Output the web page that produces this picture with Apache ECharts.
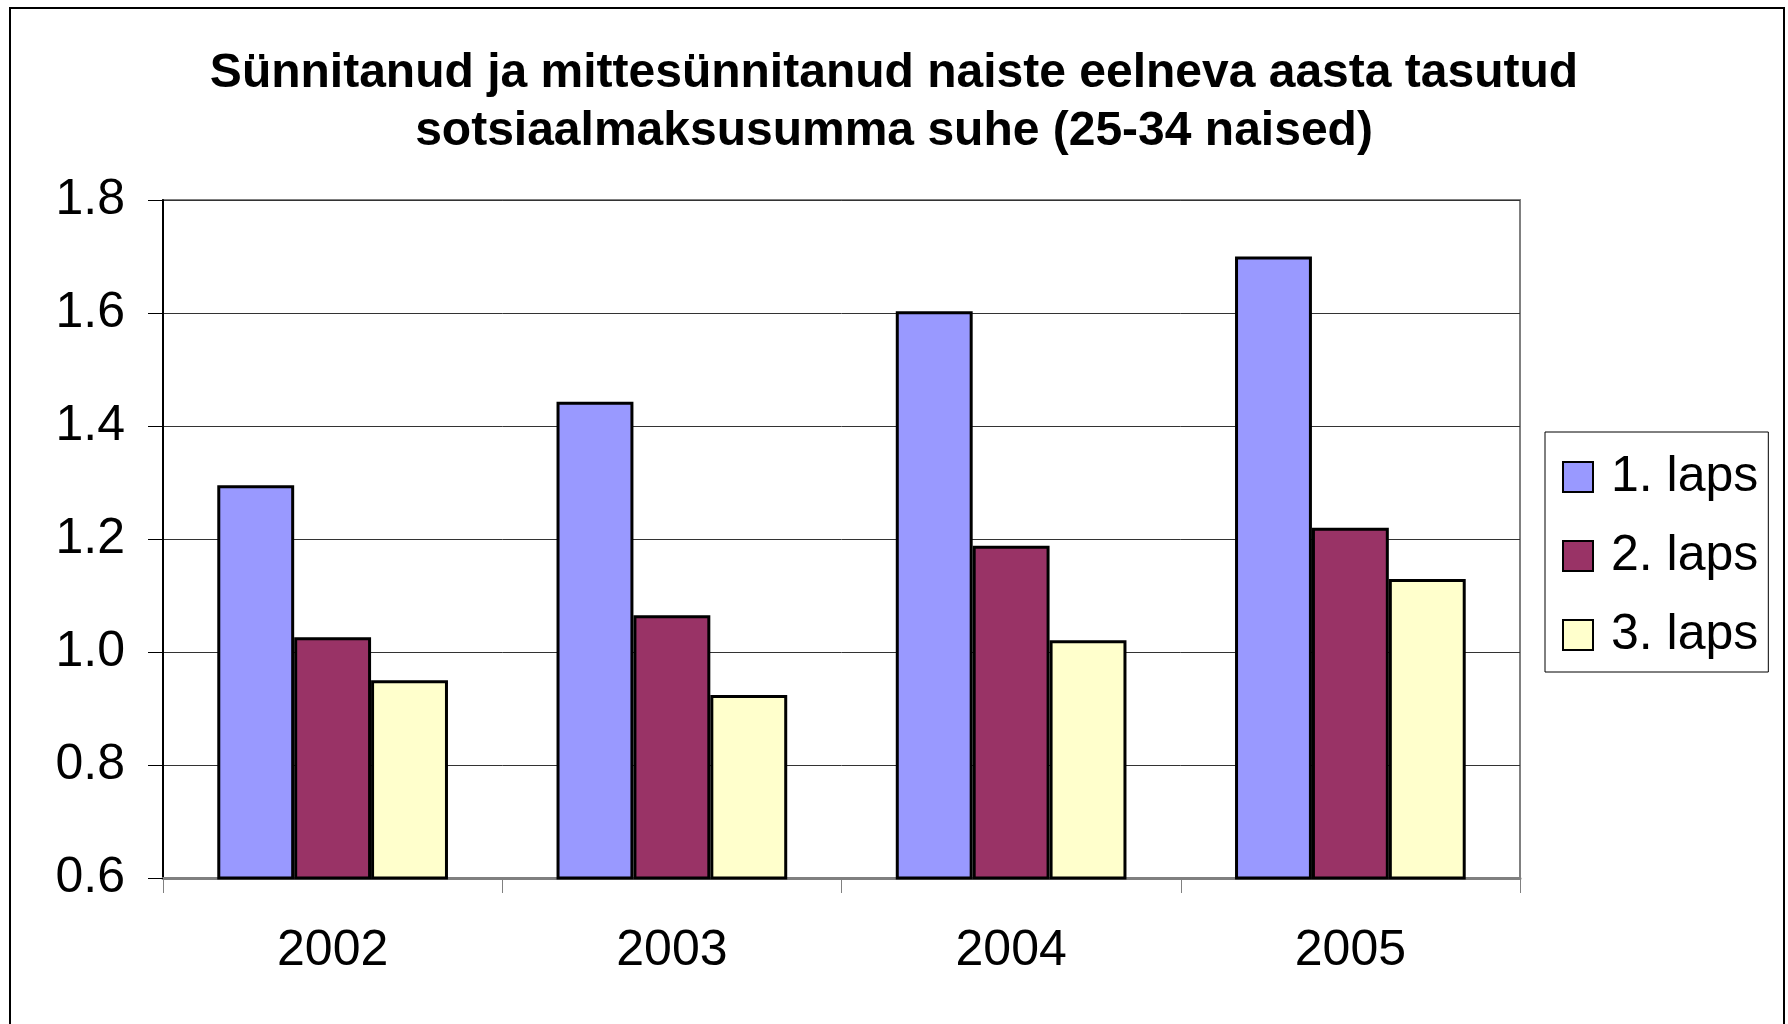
<!DOCTYPE html>
<html>
<head>
<meta charset="utf-8">
<title>Sünnitanud ja mittesünnitanud naiste sotsiaalmaksusumma suhe</title>
<script src="https://cdn.jsdelivr.net/npm/echarts@6/dist/echarts.min.js"></script>
<style>
  html, body { margin: 0; padding: 0; background: #fff; }
  #chart { width: 1788px; height: 1024px; }
</style>
</head>
<body>
<div id="chart"></div>
<script>
// andmed
const years = ['2002', '2003', '2004', '2005']
const seriesNames = ['1. laps', '2. laps', '3. laps']
const laps1 = [1.295, 1.443, 1.603, 1.70]
const laps2 = [1.026, 1.065, 1.188, 1.22]
const laps3 = [0.95, 0.924, 1.021, 1.129]
const yTicks = [0.6, 0.8, 1.0, 1.2, 1.4, 1.6, 1.8]

const colors = ['#9999FF', '#993366', '#FFFFCC']
const values = [laps1, laps2, laps3]
const font = "'Liberation Sans', Arial, sans-serif"

const chart = echarts.init(document.getElementById('chart'))

const option = {
  backgroundColor: '#fff',
  animation: false,
  title: {
    text: 'Sünnitanud ja mittesünnitanud naiste eelneva aasta tasutud\nsotsiaalmaksusumma suhe (25-34 naised)',
    left: 'center',
    top: 40,
    textStyle: {
      fontFamily: font,
      fontSize: 48,
      fontWeight: 'bold',
      lineHeight: 58,
      color: '#000',
    },
  },
  graphic: [
    {
      type: 'rect',
      shape: { x: 10, y: 8, width: 1774, height: 1100 },
      style: { fill: 'none', stroke: '#000', lineWidth: 2 },
      silent: true,
    },
  ],
  legend: {
    orient: 'vertical',
    left: 1545,
    top: 432,
    data: seriesNames,
    icon: 'rect',
    itemWidth: 30,
    itemHeight: 30,
    itemGap: 29,
    padding: [20, 10, 12, 17],
    borderColor: '#000',
    borderWidth: 1,
    textStyle: {
      fontFamily: font,
      fontSize: 50,
      color: '#000',
      padding: [0, 0, 0, 13],
    },
  },
  grid: {
    left: 163,
    right: 268,
    top: 200,
    bottom: 146,
    show: true,
    borderColor: '#808080',
    borderWidth: 2,
  },
  xAxis: {
    type: 'category',
    data: years,
    axisLine: { lineStyle: { color: '#808080', width: 3 } },
    axisTick: { show: true, length: 15, lineStyle: { color: '#808080', width: 1 } },
    axisLabel: {
      fontFamily: font,
      fontSize: 50,
      color: '#000',
      margin: 48,
    },
  },
  yAxis: {
    type: 'value',
    min: 0.6,
    max: 1.8,
    interval: 0.2,
    axisLine: { show: true, lineStyle: { color: '#000', width: 2 } },
    axisTick: { show: true, length: 15, lineStyle: { color: '#000', width: 1 } },
    axisLabel: {
      fontFamily: font,
      fontSize: 50,
      color: '#000',
      margin: 38,
      formatter: (v) => {
        const t = yTicks.find((y) => Math.abs(y - v) < 1e-6)
        return (t !== undefined ? t : v).toFixed(1)
      },
    },
    splitLine: { lineStyle: { color: '#333', width: 1 } },
  },
  series: seriesNames.map((name, i) => ({
    name: name,
    type: 'bar',
    data: values[i],
    barGap: '0%',
    barCategoryGap: '32%',
    itemStyle: {
      color: colors[i],
      borderColor: '#000',
      borderWidth: 3,
    },
  })),
}

chart.setOption(option)
</script>
</body>
</html>
